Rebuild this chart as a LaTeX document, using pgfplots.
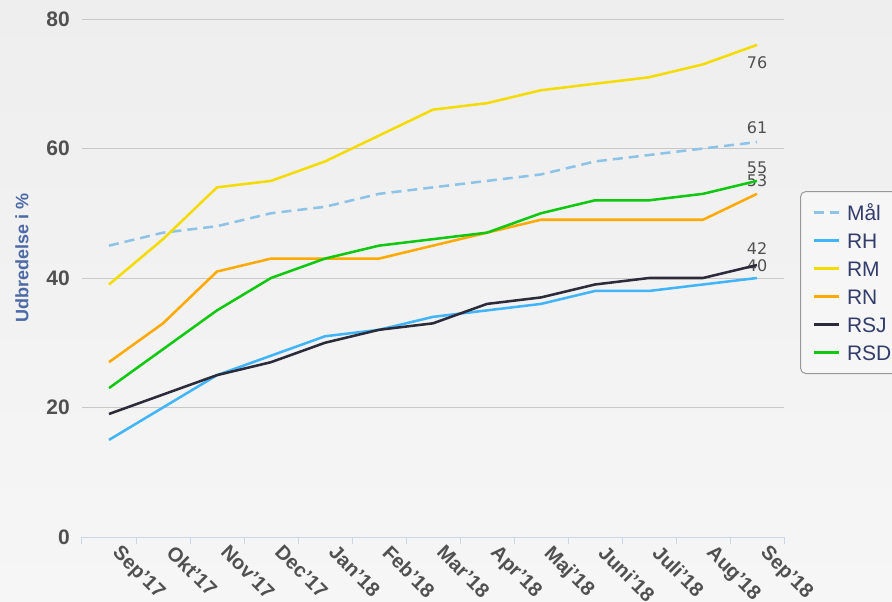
\documentclass[border=0pt]{standalone}
\usepackage{fontspec}
\setmainfont{Liberation Sans}
\newfontfamily\dejavu{DejaVu Sans}
\usepackage{pgfplots}
\pgfplotsset{compat=1.18}
\definecolor{bgtop}{HTML}{EEEEEE}
\definecolor{bgbot}{HTML}{F6F6F6}
\definecolor{axisline}{HTML}{CCD6EB}
\definecolor{gridc}{HTML}{C8C8C8}
\definecolor{tickc}{HTML}{505050}
\definecolor{ylab}{HTML}{4D6AA6}
\definecolor{legtext}{HTML}{333D6B}
\definecolor{legborder}{HTML}{999999}
\definecolor{legfill}{HTML}{F6F6F6}
\definecolor{cmal}{HTML}{8EC3E8}
\definecolor{crh}{HTML}{42B4FA}
\definecolor{crm}{HTML}{F5DC00}
\definecolor{crn}{HTML}{FFAA00}
\definecolor{crsj}{HTML}{2B2B3A}
\definecolor{crsd}{HTML}{10C810}
\begin{document}
\begin{tikzpicture}
\shade[top color=bgtop, bottom color=bgbot] (0,0) rectangle (669pt,450.75pt);
\begin{axis}[
  at={(61.5pt,48pt)}, anchor=south west,
  scale only axis, width=526.5pt, height=388.5pt,
  xmin=-0.5, xmax=12.5, ymin=0, ymax=80,
  axis x line*=bottom, axis y line*=left,
  x axis line style={draw=axisline, line width=0.75pt},
  y axis line style={draw=none},
  ytick={0,20,40,60,80},
  ymajorgrids, grid style={draw=gridc, line width=0.75pt},
  xtick={0,...,12},
  xticklabels={Sep'17,Okt'17,Nov'17,Dec'17,Jan'18,Feb'18,Mar'18,Apr'18,Maj'18,Juni'18,Juli'18,Aug'18,Sep'18},
  major tick length=0pt,
  minor xtick={-0.5,0.5,...,12.5},
  minor tick length=5pt,
  tick align=outside,
  minor tick style={draw=axisline, line width=0.75pt},
  major tick style={draw=none},
  /pgf/number format/assume math mode=true,
  yticklabel style={font=\bfseries\fontsize{15.75}{18}\selectfont, text=tickc, anchor=east, inner sep=0pt, xshift=-9pt},
  xticklabel style={font=\bfseries\fontsize{15}{18}\selectfont, text=tickc, xshift=9.5pt, yshift=-5pt, rotate=-45, anchor=north west, inner sep=0pt},
  ylabel={Udbredelse i \%},
  ylabel style={at={(axis description cs:-0.0855,0.539)}, anchor=center, font=\bfseries\fontsize{13.5}{16}\selectfont, text=ylab},
  legend style={at={(1.0228,0.6679)}, anchor=north west, draw=legborder, fill=legfill, rounded corners=4pt, line width=0.75pt,
    font=\fontsize{15.75}{18}\selectfont, text=legtext, inner xsep=9pt, inner ysep=5.25pt, column sep=5.25pt,
    nodes={inner sep=0pt, text height=16.2pt, text depth=4.8pt}},
  legend cell align=left,
  legend image code/.code={\draw[#1, line width=1.9pt] (0pt,0pt) -- (18.75pt,0pt);},
  every axis plot/.append style={line width=1.9pt, line join=round},
  clip=false,
]
\addplot[cmal, dash pattern=on 7.5pt off 4.5pt] coordinates {(0,45)(1,47)(2,48)(3,50)(4,51)(5,53)(6,54)(7,55)(8,56)(9,58)(10,59)(11,60)(12,61)}
  node[pos=1, anchor=center, yshift=10.5pt, font=\dejavu\fontsize{12}{14}\selectfont, text=tickc] {61};
\addlegendentry{Mål}
\addplot[crh] coordinates {(0,15)(1,20)(2,25)(3,28)(4,31)(5,32)(6,34)(7,35)(8,36)(9,38)(10,38)(11,39)(12,40)}
  node[pos=1, anchor=center, yshift=9pt, font=\dejavu\fontsize{12}{14}\selectfont, text=tickc] {40};
\addlegendentry{RH}
\addplot[crm] coordinates {(0,39)(1,46)(2,54)(3,55)(4,58)(5,62)(6,66)(7,67)(8,69)(9,70)(10,71)(11,73)(12,76)}
  node[pos=1, anchor=center, yshift=-13.5pt, font=\dejavu\fontsize{12}{14}\selectfont, text=tickc] {76};
\addlegendentry{RM}
\addplot[crn] coordinates {(0,27)(1,33)(2,41)(3,43)(4,43)(5,43)(6,45)(7,47)(8,49)(9,49)(10,49)(11,49)(12,53)}
  node[pos=1, anchor=center, yshift=9.75pt, font=\dejavu\fontsize{12}{14}\selectfont, text=tickc] {53};
\addlegendentry{RN}
\addplot[crsj] coordinates {(0,19)(1,22)(2,25)(3,27)(4,30)(5,32)(6,33)(7,36)(8,37)(9,39)(10,40)(11,40)(12,42)}
  node[pos=1, anchor=center, yshift=12pt, font=\dejavu\fontsize{12}{14}\selectfont, text=tickc] {42};
\addlegendentry{RSJ}
\addplot[crsd] coordinates {(0,23)(1,29)(2,35)(3,40)(4,43)(5,45)(6,46)(7,47)(8,50)(9,52)(10,52)(11,53)(12,55)}
  node[pos=1, anchor=center, yshift=9.75pt, font=\dejavu\fontsize{12}{14}\selectfont, text=tickc] {55};
\addlegendentry{RSD}
\end{axis}
\pgfresetboundingbox
\path (0,0) rectangle (669pt,450.75pt);
\end{tikzpicture}
\end{document}
